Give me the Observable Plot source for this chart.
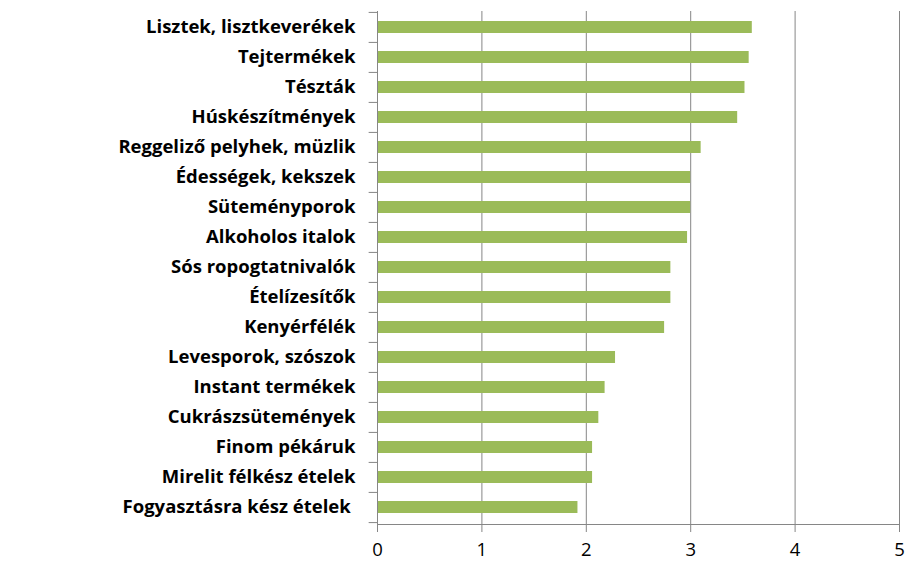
<!DOCTYPE html>
<html>
<head>
<meta charset="utf-8">
<script src="https://cdn.jsdelivr.net/npm/d3@7"></script>
<script src="https://cdn.jsdelivr.net/npm/@observablehq/plot@0.6"></script>
<style>
  html, body { margin: 0; padding: 0; background: #fff; }
  #chart svg { display: block; }
</style>
</head>
<body>
<div id="chart"></div>
<script>
const categories = [
  "Lisztek, lisztkeverékek",
  "Tejtermékek",
  "Tészták",
  "Húskészítmények",
  "Reggeliző pelyhek, müzlik",
  "Édességek, kekszek",
  "Süteményporok",
  "Alkoholos italok",
  "Sós ropogtatnivalók",
  "Ételízesítők",
  "Kenyérfélék",
  "Levesporok, szószok",
  "Instant termékek",
  "Cukrászsütemények",
  "Finom pékáruk",
  "Mirelit félkész ételek",
  "Fogyasztásra kész ételek\u00a0"
];
const values = [3.59, 3.56, 3.52, 3.45, 3.10, 3.00, 3.00, 2.97, 2.81, 2.81, 2.75, 2.28, 2.18, 2.12, 2.06, 2.06, 1.92];
const xTicks = [0, 1, 2, 3, 4, 5];

const data = categories.map((c, i) => ({name: c, value: values[i]}));

const W = 917, H = 573;
const mTop = 11, mBottom = 49, mLeft = 377, mRight = 18;
const step = (H - mTop - mBottom) / categories.length;
const gray = "#868686";
const font = "'Open Sans', Lato, sans-serif";

const chart = Plot.plot({
  width: W,
  height: H,
  marginTop: mTop,
  marginBottom: mBottom,
  marginLeft: mLeft,
  marginRight: mRight,
  style: {fontFamily: font, background: "#fff", color: "#000"},
  x: {domain: [0, 5], ticks: xTicks, label: null},
  y: {domain: categories, paddingInner: 0.59, paddingOuter: 0.295, label: null},
  marks: [
    Plot.gridX(xTicks.slice(1), {stroke: gray, strokeOpacity: 1, strokeWidth: 1}),
    Plot.barX(data, {x: "value", y: "name", fill: "#9BBB59"}),
    // y-axis line
    Plot.ruleX([0], {stroke: gray, strokeWidth: 1}),
    // x-axis line
    Plot.frame({anchor: "bottom", stroke: gray, strokeWidth: 1}),
    // y ticks at band boundaries
    Plot.ruleY(categories, {y: d => d, x1: -0.08, x2: 0, dy: -step / 2, stroke: gray}),
    Plot.ruleY([categories[categories.length - 1]], {y: d => d, x1: -0.08, x2: 0, dy: step / 2, stroke: gray}),
    Plot.axisX(xTicks, {tickSize: 8, tickPadding: 10, fontSize: 18.5, stroke: gray, fill: "#000", label: null}),
    Plot.axisY({tickSize: 0, tickPadding: 22, fontSize: 18.5, fontWeight: "bold", fill: "#000", label: null})
  ]
});
document.getElementById("chart").appendChild(chart);
</script>
</body>
</html>
